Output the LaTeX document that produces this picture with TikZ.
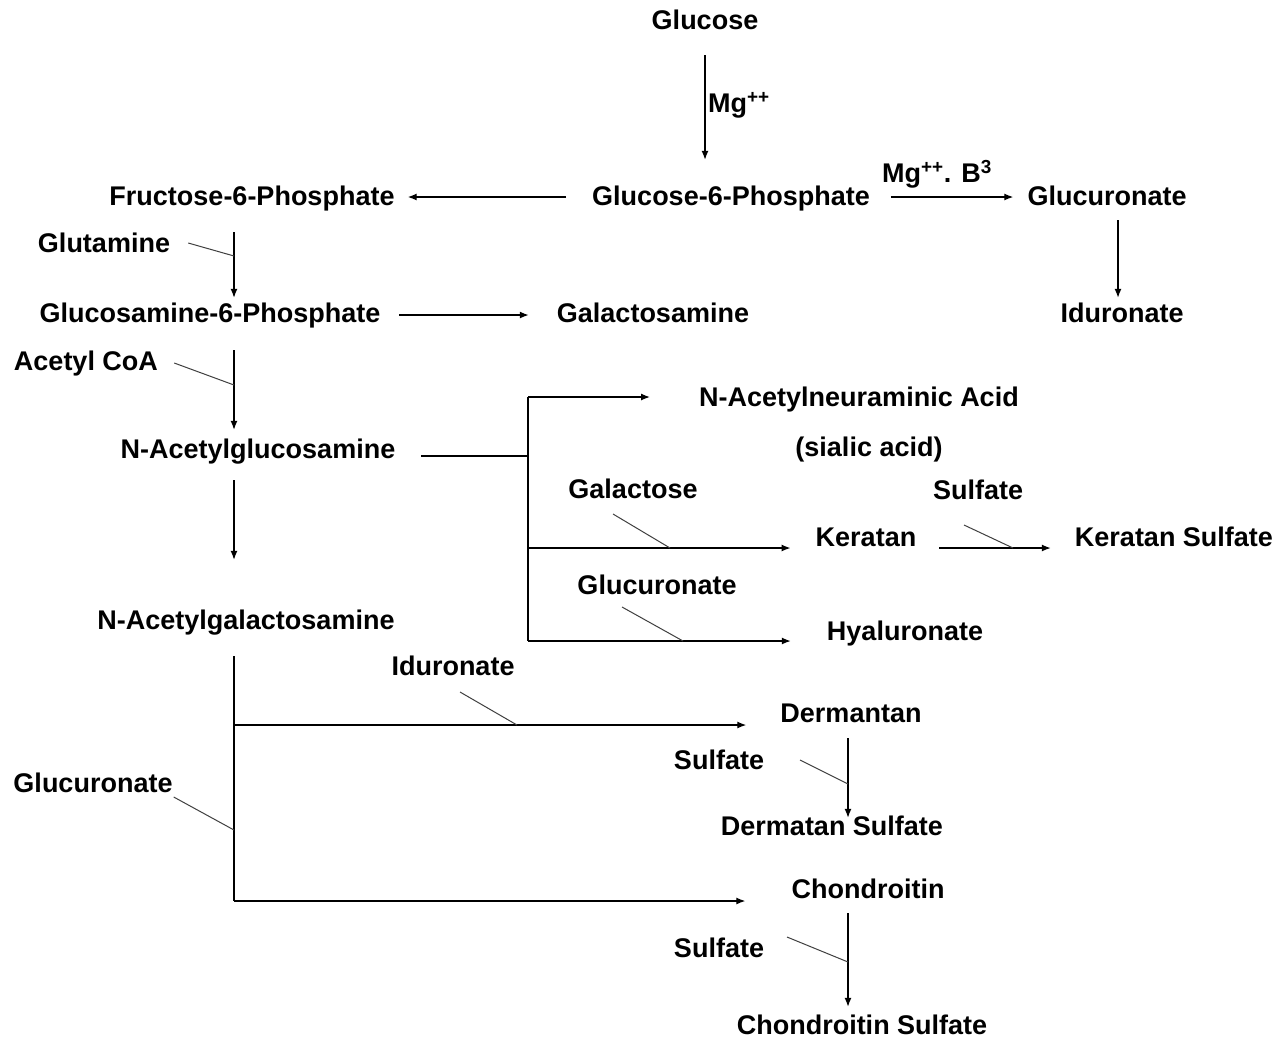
\documentclass[tikz,border=0pt]{standalone}
\usepackage{fontspec}
\setmainfont{Liberation Sans}
\usetikzlibrary{arrows.meta}
\begin{document}
\begin{tikzpicture}[x=1pt,y=-1pt,
  lbl/.style={font=\fontsize{27}{32}\selectfont\bfseries, inner sep=0pt, text height=22pt, text depth=3pt},
  arr/.style={line width=1.3pt, -{Latex[length=9pt,width=7pt]}},
  plain/.style={line width=1.3pt},
  side/.style={line width=1pt, draw=black!75}]
\useasboundingbox[fill=white] (0,0) rectangle (1280,1042);
% nodes
\node[lbl] (glucose) at (705,20) {Glucose};
\node[lbl, anchor=west] (mg1) at (708,103) {Mg\textsuperscript{++}};
\node[lbl] (g6p) at (731,196) {Glucose-6-Phosphate};
\node[lbl] (f6p) at (252,196) {Fructose-6-Phosphate};
\node[lbl] (mg2) at (937,173) {Mg\textsuperscript{++}. B\textsuperscript{3}};
\node[lbl] (glcur) at (1107,196) {Glucuronate};
\node[lbl] (idur) at (1122,313) {Iduronate};
\node[lbl] (gln) at (104,243) {Glutamine};
\node[lbl] (gln6p) at (210,313) {Glucosamine-6-Phosphate};
\node[lbl] (galn) at (653,313) {Galactosamine};
\node[lbl] (acoa) at (86,361) {Acetyl CoA};
\node[lbl] (nag) at (258,449) {N-Acetylglucosamine};
\node[lbl] (nana) at (859,397) {N-Acetylneuraminic Acid};
\node[lbl] (sial) at (869,447) {(sialic acid)};
\node[lbl] (galac) at (633,489) {Galactose};
\node[lbl] (ker) at (866,537) {Keratan};
\node[lbl] (sulf1) at (978,490) {Sulfate};
\node[lbl] (kers) at (1174,537) {Keratan Sulfate};
\node[lbl] (glcur2) at (657,585) {Glucuronate};
\node[lbl] (hyal) at (905,631) {Hyaluronate};
\node[lbl] (nagal) at (246,620) {N-Acetylgalactosamine};
\node[lbl] (idur2) at (453,666) {Iduronate};
\node[lbl] (derm) at (851,713) {Dermantan};
\node[lbl] (sulf2) at (719,760) {Sulfate};
\node[lbl] (derms) at (832,826) {Dermatan Sulfate};
\node[lbl] (glcur3) at (93,783) {Glucuronate};
\node[lbl] (chon) at (868,889) {Chondroitin};
\node[lbl] (sulf3) at (719,948) {Sulfate};
\node[lbl] (chons) at (862,1025) {Chondroitin Sulfate};
% helper coordinates
\coordinate (sp) at (234,0);
\coordinate (colD) at (848,0);
\coordinate (brin) at (528,456);
\coordinate (brtop) at (528,397);
\coordinate (brmid) at (528,548);
\coordinate (brbot) at (528,641);
\coordinate (cbrmid) at (234,725);
\coordinate (cbrbot) at (234,901);
\coordinate (jgln) at (234,256);
\coordinate (jacoa) at (234,385);
\coordinate (jgal) at (670,548);
\coordinate (jsulf1) at (1013,548);
\coordinate (jglc2) at (683,641);
\coordinate (jidur) at (517,725);
\coordinate (jglc3) at (234,830);
\coordinate (jsulf2) at (848,784);
\coordinate (jsulf3) at (848,962);
% top part
\draw[arr, shorten <=22.5pt, shorten >=23.5pt] (glucose.south) -- (glucose.south |- g6p.north);
\draw[arr, shorten <=26pt, shorten >=13pt] ([yshift=-1pt]g6p.west) -- ([yshift=-1pt]f6p.east);
\draw[arr, shorten <=21pt, shorten >=14pt] ([yshift=-1pt]g6p.east) -- ([yshift=-1pt]glcur.west);
\draw[arr, shorten <=11.5pt, shorten >=2.5pt] ([xshift=11pt]glcur.south) -- ([xshift=11pt]glcur.south |- idur.north);
% left column
\draw[arr, shorten <=23.5pt, shorten >=2.5pt] (f6p.south -| sp) -- (gln6p.north -| sp);
\draw[side] ([xshift=18pt]gln.east) -- (jgln);
\draw[arr, shorten <=19pt, shorten >=28pt] ([yshift=-2pt]gln6p.east) -- ([yshift=-2pt]galn.west);
\draw[arr, shorten <=24.5pt, shorten >=6.5pt] (gln6p.south -| sp) -- (nag.north -| sp);
\draw[side] ([shift={(16,2)}]acoa.east) -- (jacoa);
\draw[arr, shorten <=18.5pt, shorten >=47.5pt] (nag.south -| sp) -- (nagal.north -| sp);
% branch from N-acetylglucosamine
\draw[plain, shorten <=26pt] (brin -| nag.east) -- (brin);
\draw[plain] (brtop) -- (brbot);
\draw[arr, shorten >=49pt] (brtop) -- (brtop -| nana.west);
\draw[arr, shorten >=25pt] (brmid) -- (brmid -| ker.west);
\draw[arr, shorten >=36pt] (brbot) -- (brbot -| hyal.west);
\draw[side] ([shift={(-20,25)}]galac.center) -- (jgal);
\draw[arr, shorten <=23pt, shorten >=24pt] (brmid -| ker.east) -- (brmid -| kers.west);
\draw[side] ([shift={(-14,35)}]sulf1.center) -- (jsulf1);
\draw[side] ([shift={(-35,22)}]glcur2.center) -- (jglc2);
% branch from N-acetylgalactosamine
\draw[plain, shorten <=23.5pt] (nagal.south -| sp) -- (cbrbot);
\draw[arr, shorten >=34pt] (cbrmid) -- (cbrmid -| derm.west);
\draw[arr, shorten >=46pt] (cbrbot) -- (cbrbot -| chon.west);
\draw[side] ([shift={(7,26)}]idur2.center) -- (jidur);
\draw[side] ([shift={(1,14)}]glcur3.east) -- (jglc3);
% sulfation columns
\draw[arr, shorten <=12.5pt, shorten >=-4.5pt] (derm.south -| colD) -- (derms.north -| colD);
\draw[side] ([shift={(81,0)}]sulf2.center) -- (jsulf2);
\draw[arr, shorten <=11.5pt, shorten >=5.5pt] (chon.south -| colD) -- (chons.north -| colD);
\draw[side] ([shift={(68,-11)}]sulf3.center) -- (jsulf3);
\end{tikzpicture}
\end{document}
